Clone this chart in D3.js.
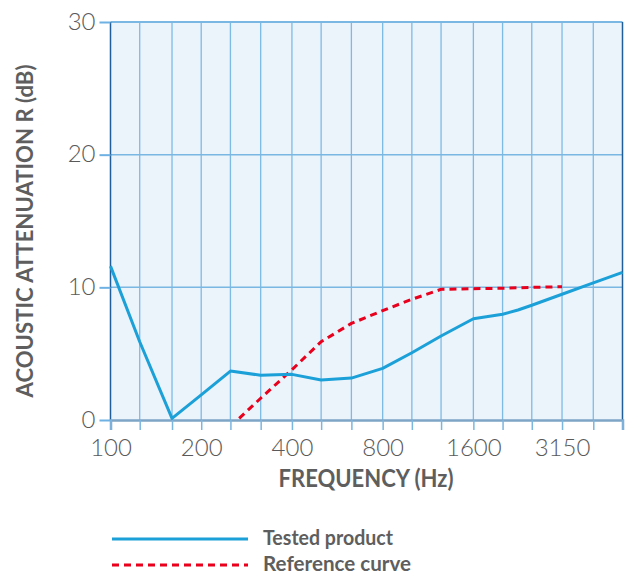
<!DOCTYPE html>
<html lang="en">
<head>
<meta charset="utf-8">
<title>Acoustic attenuation</title>
<script src="https://d3js.org/d3.v7.min.js"></script>
<style>
  body { margin: 0; background: #fff; }
  text { font-family: Lato, "Open Sans", sans-serif; }
</style>
</head>
<body>
<div class="chart"></div>
<script>
// third-octave bands shown as gridlines
var freqs = [100, 125, 160, 200, 250, 315, 400, 500, 630, 800, 1000, 1250, 1600, 2000, 2500, 3150, 4000, 5000];
var labelled = [100, 200, 400, 800, 1600, 3150];
var yTicks = [0, 10, 20, 30];

// tested product
var testedFreq = [100, 125, 160, 200, 250, 315, 400, 500, 630, 800, 1000, 1250, 1600, 2000, 2250, 2500, 3150, 4000, 5000];
var testedR = [11.6, 5.9, 0.12, 1.9, 3.69, 3.37, 3.44, 3.01, 3.16, 3.89, 5.07, 6.33, 7.63, 7.97, 8.29, 8.65, 9.48, 10.33, 11.13];

// reference curve
var refFreq = [250, 315, 400, 500, 630, 800, 1000, 1250, 1600, 2000, 2500, 3150];
var refR = [-0.5, 1.64, 3.79, 5.9, 7.28, 8.24, 9.1, 9.85, 9.9, 9.93, 10.0, 10.05];

var W = 630, H = 579;
var m = {top: 22, right: 7.5, bottom: 159, left: 110.5};
var w = W - m.left - m.right,
    h = H - m.top - m.bottom;

var svg = d3.select(".chart").append("svg")
  .attr("width", W)
  .attr("height", H);

var g = svg.append("g")
  .attr("transform", "translate(" + m.left + "," + m.top + ")");

var x = d3.scaleLog().domain([100, 5000]).range([0, w]);
var y = d3.scaleLinear().domain([0, 30]).range([h, 0]);

svg.append("defs").append("clipPath").attr("id", "plot")
  .append("rect").attr("width", w).attr("height", h);

g.append("rect")
  .attr("width", w)
  .attr("height", h)
  .style("fill", "#ebf3fb");

// vertical grid
g.selectAll(".vgrid").data(freqs.slice(1, -1)).enter().append("line")
  .attr("class", "vgrid")
  .attr("x1", function(d){ return x(d); })
  .attr("x2", function(d){ return x(d); })
  .attr("y1", 0).attr("y2", h)
  .style("stroke", "#7dbbe5")
  .style("stroke-width", "1.3");

// horizontal grid
g.selectAll(".hgrid").data(yTicks.slice(1)).enter().append("line")
  .attr("class", "hgrid")
  .attr("x1", 0).attr("x2", w)
  .attr("y1", function(d){ return y(d); })
  .attr("y2", function(d){ return y(d); })
  .style("stroke", "#7ab7e2")
  .style("stroke-width", function(d){ return d == 30 ? "2" : "1.5"; });

// side borders
[0, w].forEach(function(px){
  g.append("line")
    .attr("x1", px).attr("x2", px)
    .attr("y1", y(30)).attr("y2", h)
    .style("stroke", "#1f5e9b")
    .style("stroke-width", "1.5");
});

// x axis
var xAxis = g.append("g")
  .attr("transform", "translate(0," + h + ")")
  .call(d3.axisBottom(x).tickValues(freqs).tickSize(10)
    .tickFormat(function(d){ return labelled.indexOf(d) > -1 ? d : ""; }));
xAxis.select(".domain").style("stroke", "#7fa5c6").style("stroke-width", "2.5");
xAxis.selectAll(".tick line").style("stroke", "#7ab6e0").style("stroke-width", "1.5");
xAxis.selectAll(".tick text")
  .attr("y", 35.5).attr("dy", null)
  .style("font-size", "24px")
  .style("font-weight", "300")
  .style("fill", "#5a5a5a");

// y axis
var yAxis = g.append("g")
  .call(d3.axisLeft(y).tickValues(yTicks).tickSize(11).tickPadding(4));
yAxis.select(".domain").remove();
yAxis.selectAll(".tick line").style("stroke", "#6fb1e2").style("stroke-width", "2");
yAxis.selectAll(".tick text")
  .attr("dy", "0.3em")
  .style("font-size", "24px")
  .style("font-weight", "300")
  .style("fill", "#5a5a5a");

// curves
var line = d3.line()
  .x(function(d){ return x(d[0]); })
  .y(function(d){ return y(d[1]); });

g.append("path")
  .datum(d3.zip(refFreq, refR))
  .attr("clip-path", "url(#plot)")
  .attr("d", line)
  .style("fill", "none")
  .style("stroke", "#e8001c")
  .style("stroke-width", "3")
  .style("stroke-dasharray", "7,5");

g.append("path")
  .datum(d3.zip(testedFreq, testedR))
  .attr("d", line)
  .style("fill", "none")
  .style("stroke", "#1ba0d8")
  .style("stroke-width", "3")
  .style("stroke-linejoin", "round");

// axis titles
svg.append("text")
  .attr("x", 366).attr("y", 487)
  .attr("text-anchor", "middle")
  .attr("textLength", 175)
  .attr("lengthAdjust", "spacingAndGlyphs")
  .style("font-size", "25px")
  .style("font-weight", "700")
  .style("fill", "#5e5e5e")
  .text("FREQUENCY (Hz)");

svg.append("text")
  .attr("transform", "translate(33,231) rotate(-90)")
  .attr("text-anchor", "middle")
  .attr("textLength", 333)
  .attr("lengthAdjust", "spacingAndGlyphs")
  .style("font-size", "22px")
  .style("font-weight", "700")
  .style("fill", "#5e5e5e")
  .text("ACOUSTIC ATTENUATION R (dB)");

// legend
var legend = [
  {name: "Tested product", color: "#1ba0d8", dash: null, len: 130},
  {name: "Reference curve", color: "#e8001c", dash: "7,5", len: 148}
];
var lg = svg.selectAll(".legend").data(legend).enter().append("g")
  .attr("class", "legend")
  .attr("transform", function(d, i){ return "translate(112," + (539 + i * 26) + ")"; });
lg.append("line")
  .attr("x1", 0).attr("x2", 136)
  .style("stroke", function(d){ return d.color; })
  .style("stroke-width", "3")
  .style("stroke-dasharray", function(d){ return d.dash; });
lg.append("text")
  .attr("x", 151).attr("y", 6)
  .attr("textLength", function(d){ return d.len; })
  .attr("lengthAdjust", "spacingAndGlyphs")
  .style("font-size", "21px")
  .style("font-weight", "700")
  .style("fill", "#5e5e5e")
  .text(function(d){ return d.name; });
</script>
</body>
</html>
